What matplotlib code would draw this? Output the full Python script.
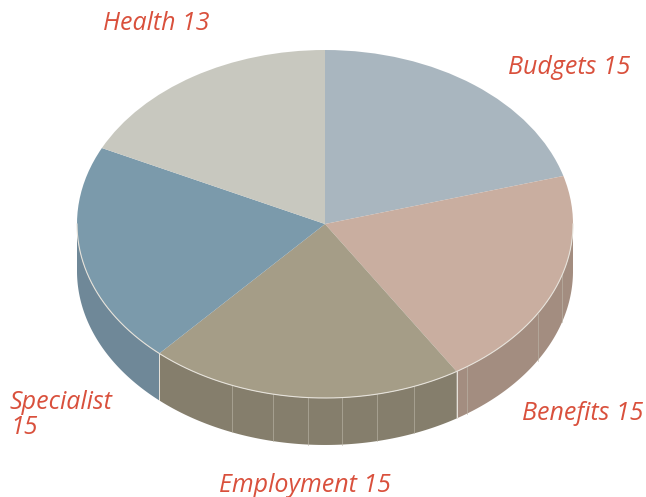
import numpy as np
import matplotlib
matplotlib.use("Agg")
import matplotlib.pyplot as plt
from matplotlib.patches import Polygon

# ---- data ----
categories = ["Budgets", "Benefits", "Employment", "Specialist", "Health"]
values = [15, 15, 15, 15, 13]
label_seps = [" ", " ", " ", "\n", " "]

# ---- style ----
top_colors = ["#a9b6bf", "#c9aea0", "#a59d87", "#7b9aab", "#c8c8bf"]
side_colors = ["#8c99a2", "#a38d80", "#857e6c", "#6f8898", "#a5a59c"]
label_color = "#d9503c"
edge_light = "#e6e2da"
facet_angles = [248, 258, 266, 274, 282, 291, 305, 329, 343]
depth = 0.27
# label positions in pixels (left x, center y)
label_pos = [(508, 68), (522, 413), (219, 486), (10, 415), (103, 24)]

W, H = 646, 497
fig = plt.figure(figsize=(W / 100, H / 100), dpi=100)
ax = fig.add_axes([0, 0, 1, 1])

# top surface
wedges, _ = ax.pie(values, colors=top_colors, startangle=90, counterclock=False,
                   radius=1, wedgeprops=dict(linewidth=0, edgecolor="none", zorder=3))

# angles of slices (math degrees, counter-clockwise)
fr = np.array(values, float) / sum(values)
cum = np.concatenate([[0], np.cumsum(fr)])
theta2 = 90 - cum[:-1] * 360
theta1 = 90 - cum[1:] * 360


def front_parts(a, b):
    parts = []
    for off in (-360, 0, 360):
        lo, hi = max(a + off, 180), min(b + off, 360)
        if hi > lo:
            parts.append((lo, hi))
    return parts


for i in range(len(values)):
    for lo, hi in front_parts(theta1[i], theta2[i]):
        t = np.radians(np.linspace(lo, hi, 120))
        xs, ys = np.cos(t), np.sin(t)
        verts = np.concatenate([np.c_[xs, ys], np.c_[xs[::-1], ys[::-1] - depth]])
        ax.add_patch(Polygon(verts, closed=True, facecolor=side_colors[i],
                             edgecolor="none", zorder=1))
        for a in (lo, hi):
            if 180 < a < 360:
                r = np.radians(a)
                ax.plot([np.cos(r)] * 2, [np.sin(r), np.sin(r) - depth],
                        color=edge_light, lw=0.7, zorder=2)

for a in facet_angles:
    r = np.radians(a)
    ax.plot([np.cos(r)] * 2, [np.sin(r), np.sin(r) - depth],
            color="#bdb7a9", lw=0.6, alpha=0.7, zorder=2)

# rim highlight
t = np.radians(np.linspace(180, 360, 300))
ax.plot(np.cos(t), np.sin(t), color=edge_light, lw=0.8, zorder=4)

# scale: 1 unit = 248 px horizontally, 174 px vertically; center at (325, 224)
cx, cy, rx, ry = 325, 224, 248, 174
ax.set_xlim(-cx / rx, (W - cx) / rx)
ax.set_ylim(-(H - cy) / ry, cy / ry)
ax.set_aspect("auto")
ax.axis("off")

for i, cat in enumerate(categories):
    x, y = label_pos[i]
    fig.text(x / W, 1 - y / H, f"{cat}{label_seps[i]}{values[i]}",
             ha="left", va="center", color=label_color, fontsize=18,
             style="italic", family=["Open Sans", "DejaVu Sans"], linespacing=1.05)

fig.savefig("out.png", dpi=100)
